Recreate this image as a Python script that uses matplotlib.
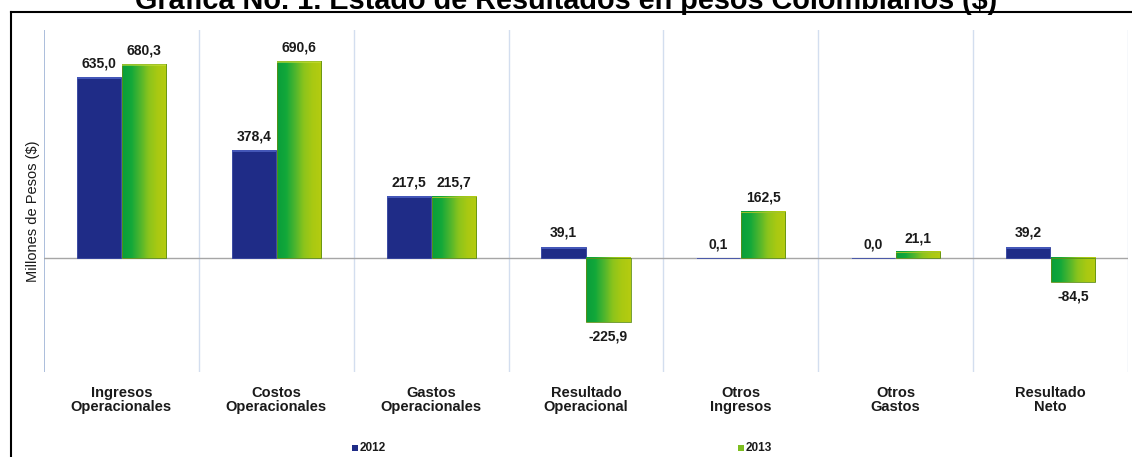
import numpy as np
import matplotlib
matplotlib.use("Agg")
import matplotlib.pyplot as plt
from matplotlib.colors import LinearSegmentedColormap
from matplotlib.patches import Rectangle
from matplotlib.lines import Line2D

categories = ["Ingresos\nOperacionales", "Costos\nOperacionales", "Gastos\nOperacionales",
              "Resultado\nOperacional", "Otros\nIngresos", "Otros\nGastos", "Resultado\nNeto"]
values_2012 = [635.0, 378.4, 217.5, 39.1, 0.1, 0.0, 39.2]
values_2013 = [680.3, 690.6, 215.7, -225.9, 162.5, 21.1, -84.5]
series_names = ["2012", "2013"]
title = "Gráfica No. 1. Estado de Resultados en pesos Colombianos ($)"
ylabel = "Millones de Pesos ($)"

plt.rcParams['font.family'] = ['Liberation Sans', 'DejaVu Sans']

W, H = 1132, 457
fig = plt.figure(figsize=(W / 100, H / 100), dpi=100)
ax = fig.add_axes([44 / W, 1 - 372 / H, (1128 - 44) / W, (372 - 30) / H])

n = len(categories)
x = np.arange(n)
bw = 0.285
off = 0.145

navy = "#1F2C87"
green_cmap = LinearSegmentedColormap.from_list(
    "g", ["#0A9E3A", "#12A83A", "#4DB52E", "#8CC41C", "#A9C912", "#B5CC10"])
grad = np.linspace(0, 1, 64).reshape(1, -1)

ax.set_xlim(-0.5, n - 0.5)
ax.set_ylim(-400, 800)

# separators
for k in range(n + 1):
    ax.axvline(k - 0.5, color="#9DB3D6" if k == 0 else "#D3DEEF", lw=1.2 if k == 0 else 1.0, zorder=0)
ax.axhline(0, color="#A6A6A6", lw=1.0, zorder=1)

def fmt(v):
    return f"{v:.1f}".replace(".", ",")

for i in range(n):
    # 2012 bar
    v = values_2012[i]
    ax.bar(x[i] - off, v, bw, color=navy, edgecolor="#2F3F9E", lw=0.6, zorder=3)
    if abs(v) > 5:
        top = max(v, 0)
        ax.add_patch(Rectangle((x[i] - off - bw / 2, top - 6), bw, 6, color="#4457B8", zorder=4, lw=0))
    else:
        ax.add_patch(Rectangle((x[i] - off - bw / 2, -2), bw, 2.5, color="#E6E6E6", zorder=2, lw=0))
    ax.annotate(fmt(v), (x[i] - off, max(v, 0)), xytext=(0, 5 if v >= 0 else -5),
                textcoords="offset points", ha="center", va="bottom" if v >= 0 else "top",
                fontsize=10, fontweight="bold", color="#1a1a1a", zorder=6)
    # 2013 bar with gradient
    v = values_2013[i]
    x0, x1 = x[i] + off - bw / 2, x[i] + off + bw / 2
    y0, y1 = min(0, v), max(0, v)
    ax.imshow(grad, cmap=green_cmap, extent=(x0, x1, y0, y1), aspect="auto",
              interpolation="bicubic", zorder=3)
    ax.add_patch(Rectangle((x0, y0), bw, y1 - y0, fill=False, edgecolor="#5E8F14", lw=0.6, zorder=4))
    if v > 5:
        ax.add_patch(Rectangle((x0, y1 - 5), bw, 5, color="#C8E03A", alpha=0.6, zorder=4, lw=0))
    ax.annotate(fmt(v), (x[i] + off, v), xytext=(0, 5 if v >= 0 else -5),
                textcoords="offset points", ha="center", va="bottom" if v >= 0 else "top",
                fontsize=10, fontweight="bold", color="#1a1a1a", zorder=6)

ax.set_xlim(-0.5, n - 0.5)
ax.set_ylim(-400, 800)
for s in ax.spines.values():
    s.set_visible(False)
ax.set_yticks([])
ax.set_xticks(x)
ax.set_xticklabels(categories, fontsize=10.5, fontweight="bold", color="#1a1a1a", linespacing=1.05)
ax.tick_params(axis="x", length=0, pad=10)

fig.text(33 / W, 1 - 211 / H, ylabel, rotation=90, ha="center", va="center",
         fontsize=10.5, color="#1a1a1a")

# title (partly clipped at top, as in the reference)
fig.text(0.5, 1 - 9 / H, title, ha="center", va="baseline", fontsize=20.8,
         fontweight="bold", color="black")

# frame lines
fig.add_artist(Line2D([10.5 / W, 1.0], [1 - 11.5 / H, 1 - 11.5 / H], transform=fig.transFigure,
                      color="black", lw=1.5))
fig.add_artist(Line2D([10.5 / W, 10.5 / W], [0, 1 - 11.5 / H], transform=fig.transFigure,
                      color="black", lw=1.5))

# legend
for name, xs, col in [(series_names[0], 352, navy), (series_names[1], 738, "#7DBE20")]:
    fig.add_artist(Rectangle((xs / W, 1 - 451 / H), 6 / W, 6 / H, transform=fig.transFigure,
                             color=col, lw=0))
    fig.text((xs + 8) / W, 1 - 448 / H, name, fontsize=8.5, fontweight="bold",
             color="#1a1a1a", va="center", ha="left")

fig.savefig("out.png", dpi=100)
